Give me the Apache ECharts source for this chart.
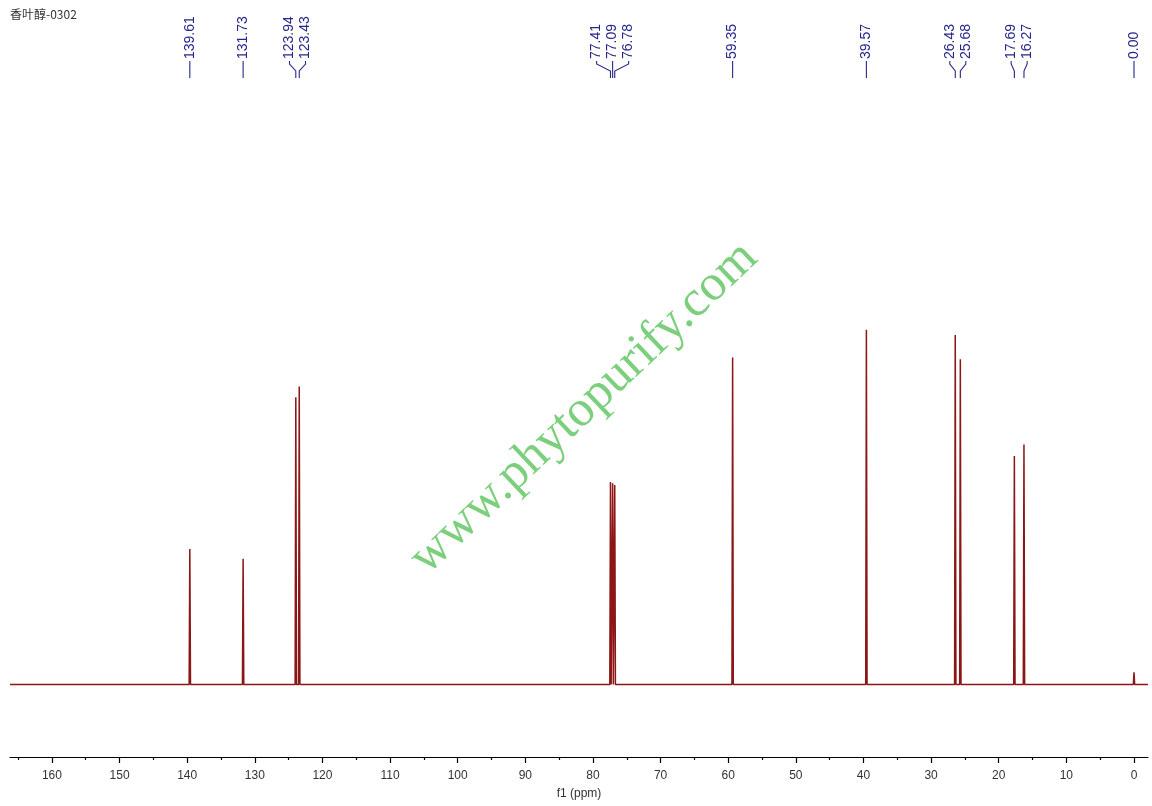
<!DOCTYPE html>
<html><head><meta charset="utf-8">
<script src="https://cdn.jsdelivr.net/npm/echarts@6/dist/echarts.min.js"></script>
<style>html,body{margin:0;padding:0;background:#fff}#c{width:1152px;height:806px}</style>
</head><body><div id="c"></div>
<script>
const titleText = '香叶醇-0302';
const watermarkText = 'www.phytopurify.com';
const peakShifts = [139.61, 131.73, 123.94, 123.43, 77.41, 77.09, 76.78, 59.35, 39.57, 26.43, 25.68, 17.69, 16.27, 0.00];
const peakHeights = [22.4, 20.8, 47.5, 49.3, 33.5, 33.3, 33.0, 54.1, 58.7, 57.8, 53.8, 37.8, 39.7, 2.0];
const peakLabels = ['139.61', '131.73', '123.94', '123.43', '77.41', '77.09', '76.78', '59.35', '39.57', '26.43', '25.68', '17.69', '16.27', '0.00'];
const tickValues = [0, 10, 20, 30, 40, 50, 60, 70, 80, 90, 100, 110, 120, 130, 140, 150, 160];
const minorTickValues = [5, 15, 25, 35, 45, 55, 65, 75, 85, 95, 105, 115, 125, 135, 145, 155, 165];
const axisMin = -2.07, axisMax = 166.2;
const halfWidth = 0.1;

const spectrum = [[axisMax, 0]];
peakShifts.forEach((s, i) => {
  spectrum.push([s + halfWidth, 0], [s, peakHeights[i]], [s - halfWidth, 0]);
});
spectrum.push([axisMin, 0]);

const chart = echarts.init(document.getElementById('c'), null, {renderer: 'canvas'});
const lineColor = '#8c1515';
const labelColor = '#26268a';
const option = {
  animation: false,
  backgroundColor: '#fff',
  grid: {left: 10, right: 4, top: 80, bottom: 49, containLabel: false, outerBoundsMode: 'none'},
  xAxis: [{
    type: 'value', min: axisMin, max: axisMax, inverse: true, position: 'bottom',
    axisLine: {show: true, onZero: false, lineStyle: {color: '#000', width: 1.2}},
    axisTick: {show: true, inside: false, length: 6, lineStyle: {color: '#000', width: 1.2}, customValues: tickValues},
    axisLabel: {show: true, customValues: tickValues, margin: 13, color: '#333', fontSize: 12, fontFamily: 'Liberation Sans'},
    splitLine: {show: false},
    name: 'f1 (ppm)', nameLocation: 'middle', nameGap: 31,
    nameTextStyle: {color: '#333', fontSize: 12, fontFamily: 'Liberation Sans'}
  }, {
    type: 'value', min: axisMin, max: axisMax, inverse: true, position: 'bottom',
    axisLine: {show: false, onZero: false},
    axisTick: {show: true, inside: false, length: 3, lineStyle: {color: '#000', width: 1.2}, customValues: minorTickValues},
    axisLabel: {show: false},
    splitLine: {show: false}
  }],
  yAxis: {type: 'value', min: -12, max: 100, show: false, splitLine: {show: false}},
  series: [{
    type: 'line', xAxisIndex: 0, data: spectrum, symbol: 'none', smooth: false,
    lineStyle: {color: lineColor, width: 1.5}, silent: true
  }]
};
chart.setOption(option);

const px = peakShifts.map(s => chart.convertToPixel({xAxisIndex: 0}, s));
const spacing = 16;
const groups = [];
let cur = [0];
for (let i = 1; i < px.length; i++) {
  if (px[i] - px[i - 1] < spacing) cur.push(i); else { groups.push(cur); cur = [i]; }
}
groups.push(cur);

const elements = [];
groups.forEach(g => {
  const center = g.reduce((a, i) => a + px[i], 0) / g.length;
  g.forEach((i, j) => {
    const lx = g.length === 1 ? px[i] : center + (j - (g.length - 1) / 2) * spacing;
    elements.push({
      type: 'text', x: lx, y: 59, rotation: Math.PI / 2, silent: true,
      style: {text: peakLabels[i], fill: labelColor, font: '14px "Liberation Sans", Arial, sans-serif', align: 'left', verticalAlign: 'middle'}
    });
    const pts = g.length === 1 ? [[lx, 61], [lx, 78]] : [[lx, 61], [lx, 64], [px[i], 71], [px[i], 78]];
    elements.push({type: 'polyline', silent: true, shape: {points: pts}, style: {stroke: labelColor, lineWidth: 1.1, fill: null}});
  });
});

elements.push({
  type: 'text', x: 10, y: 14, silent: true,
  style: {text: titleText, fill: '#333', font: '12px "Noto Sans CJK SC", "Liberation Sans", sans-serif', align: 'left', verticalAlign: 'middle'}
});
elements.push({
  type: 'text', x: 584, y: 408, rotation: 0.76, silent: true, z: 10,
  style: {text: watermarkText, fill: '#7ccf7c', font: '51px "Liberation Serif", "DejaVu Serif", serif', align: 'center', verticalAlign: 'middle'}
});

chart.setOption({graphic: {elements: elements}});
</script>
</body></html>
